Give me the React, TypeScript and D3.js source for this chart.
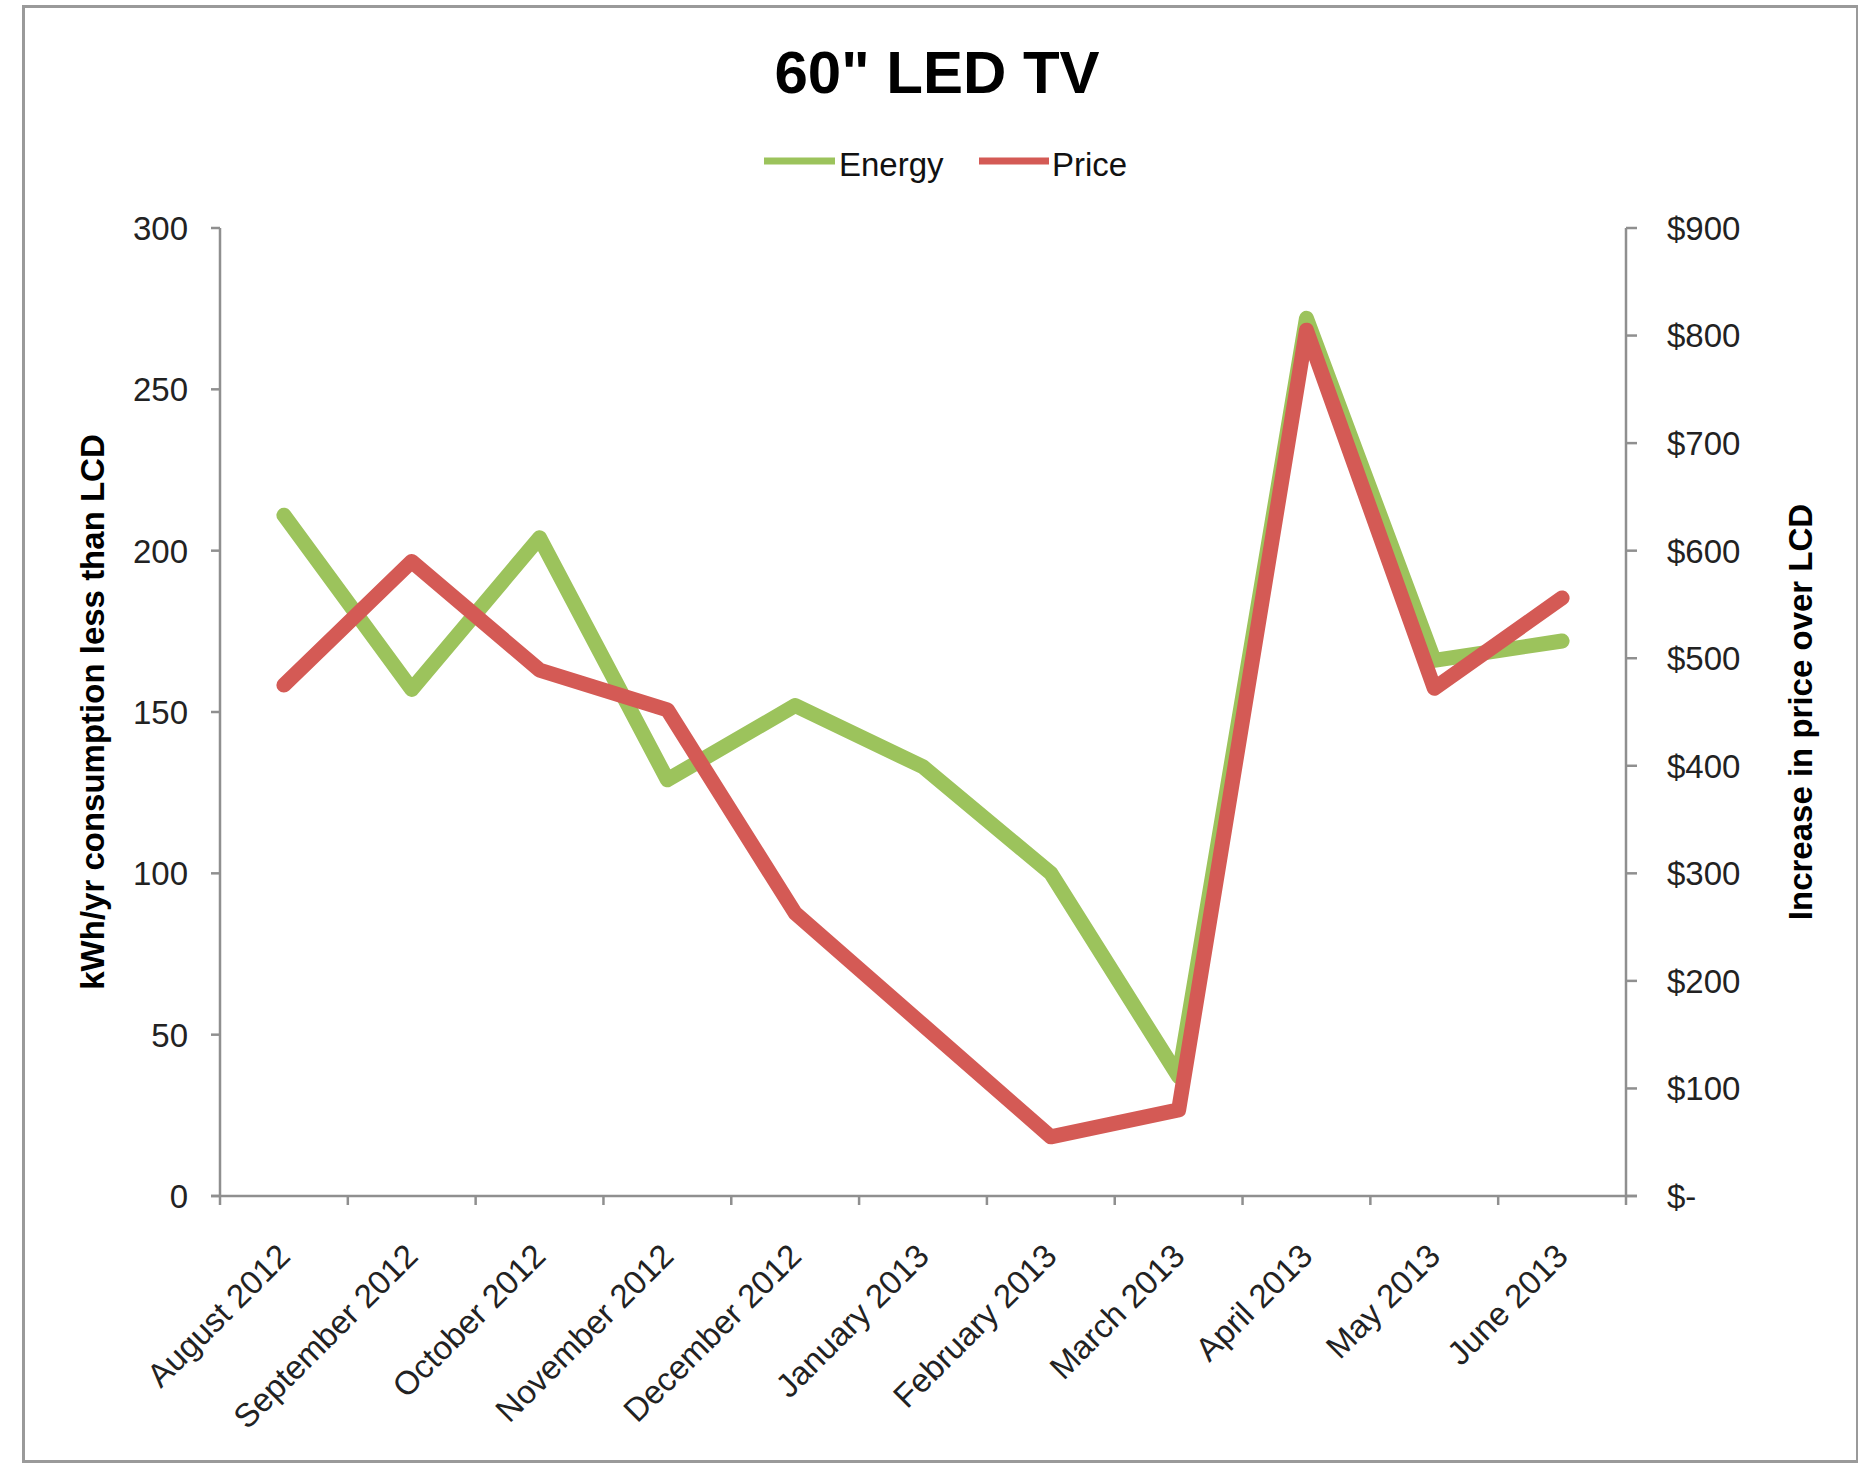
import React from "react";
import * as d3 from "d3";

// Monthly comparison of a 60" LED TV against an LCD set
const months = [
  "August 2012",
  "September 2012",
  "October 2012",
  "November 2012",
  "December 2012",
  "January 2013",
  "February 2013",
  "March 2013",
  "April 2013",
  "May 2013",
  "June 2013",
];

// kWh/yr consumption less than LCD (left axis)
const energy = [211, 157, 204, 129, 152, 133, 100, 37, 272, 166, 172];

// Increase in price over LCD, dollars (right axis)
const price = [475, 590, 489, 452, 263, 159, 55, 80, 805, 472, 556];

const leftTicks = [0, 50, 100, 150, 200, 250, 300];
const rightTicks = [0, 100, 200, 300, 400, 500, 600, 700, 800, 900];

const FONT = "'Liberation Sans', Arial, Helvetica, sans-serif";
const GREEN = "#9CC35C";
const RED = "#D45A55";
const AXIS = "#8f8f8f";

export default function App() {
  const W = 1858;
  const H = 1464;
  const left = 220;
  const right = 1626;
  const top = 228;
  const bottom = 1196;

  const x = d3.scaleBand<string>().domain(months).range([left, right]).padding(0);
  const bw = x.bandwidth();
  const cx = (m: string) => (x(m) as number) + bw / 2;
  const yL = d3.scaleLinear().domain([0, 300]).range([bottom, top]);
  const yR = d3.scaleLinear().domain([0, 900]).range([bottom, top]);

  const energyLine = d3
    .line<number>()
    .x((_, i) => cx(months[i]))
    .y((d) => yL(d));
  const priceLine = d3
    .line<number>()
    .x((_, i) => cx(months[i]))
    .y((d) => yR(d));

  const boundaries = d3.range(months.length + 1).map((i) => left + i * bw);

  return (
    <svg
      width={W}
      height={H}
      style={{ position: "absolute", left: 0, top: 0, background: "#fff" }}
      fontFamily={FONT}
    >
      <rect x={0} y={0} width={W} height={H} fill="#fff" />
      <rect x={23.5} y={6.5} width={1834} height={1455} fill="none" stroke="#9a9a9a" strokeWidth={3} />

      {/* title */}
      <text x={937} y={93} textAnchor="middle" fontSize={60} fontWeight="bold" fill="#000">
        60" LED TV
      </text>

      {/* legend */}
      <line x1={764} x2={835} y1={161} y2={161} stroke={GREEN} strokeWidth={7} />
      <text x={839} y={176} fontSize={33} fill="#111">Energy</text>
      <line x1={979} x2={1049} y1={161} y2={161} stroke={RED} strokeWidth={7} />
      <text x={1052} y={176} fontSize={33} fill="#111">Price</text>

      {/* axes */}
      <line x1={left} x2={left} y1={top} y2={bottom} stroke={AXIS} strokeWidth={2.5} />
      <line x1={right} x2={right} y1={top} y2={bottom} stroke={AXIS} strokeWidth={2.5} />
      <line x1={left - 9} x2={right + 11} y1={bottom} y2={bottom} stroke={AXIS} strokeWidth={2.5} />

      {leftTicks.map((t) => (
        <g key={"l" + t}>
          <line x1={left - 9} x2={left} y1={yL(t)} y2={yL(t)} stroke={AXIS} strokeWidth={2.5} />
          <text x={188} y={yL(t)} dy="0.36em" textAnchor="end" fontSize={33} fill="#222">
            {t}
          </text>
        </g>
      ))}

      {rightTicks.map((t) => (
        <g key={"r" + t}>
          <line x1={right} x2={right + 11} y1={yR(t)} y2={yR(t)} stroke={AXIS} strokeWidth={2.5} />
          <text x={1667} y={yR(t)} dy="0.36em" textAnchor="start" fontSize={33} fill="#222">
            {t === 0 ? "$-" : "$" + t}
          </text>
        </g>
      ))}

      {boundaries.map((b, i) => (
        <line key={"b" + i} x1={b} x2={b} y1={bottom} y2={bottom + 9} stroke={AXIS} strokeWidth={2.5} />
      ))}

      {months.map((m) => (
        <text
          key={m}
          transform={`translate(${cx(m) + 8},${1258}) rotate(-45)`}
          textAnchor="end"
          fontSize={33}
          fill="#222"
        >
          {m}
        </text>
      ))}

      {/* axis titles */}
      <text
        transform={`translate(92,712) rotate(-90)`}
        textAnchor="middle"
        dy="0.36em"
        fontSize={33}
        fontWeight="bold"
        fill="#000"
      >
        kWh/yr consumption less than LCD
      </text>
      <text
        transform={`translate(1800,712) rotate(-90)`}
        textAnchor="middle"
        dy="0.36em"
        fontSize={33}
        fontWeight="bold"
        fill="#000"
      >
        Increase in price over LCD
      </text>

      {/* series */}
      <path
        d={energyLine(energy) || ""}
        fill="none"
        stroke={GREEN}
        strokeWidth={15}
        strokeLinejoin="round"
        strokeLinecap="round"
      />
      <path
        d={priceLine(price) || ""}
        fill="none"
        stroke={RED}
        strokeWidth={15}
        strokeLinejoin="round"
        strokeLinecap="round"
      />
    </svg>
  );
}
